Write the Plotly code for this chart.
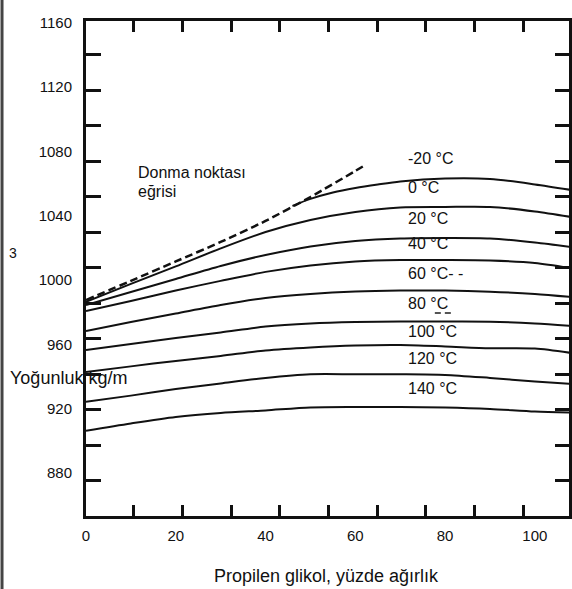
import plotly.graph_objects as go

# ---- data ----
conc = [0, 10, 20, 30, 40, 50, 60, 70, 80, 90, 100, 108]
conc_m20 = [46, 50, 55, 60, 65, 70, 80, 90, 100, 108]
dens_m20 = [1046.1, 1050.5, 1054.5, 1057.3, 1059.5, 1061.4, 1063.2, 1062.9, 1059.5, 1056.1]
dens_0 = [986.4, 997.6, 1008.5, 1019.7, 1029.9, 1037.4, 1042.4, 1045.2, 1045.5, 1045.5, 1042.7, 1039.3]
dens_20 = [984.5, 992.6, 1000.7, 1008.8, 1015.6, 1020.9, 1024.3, 1025.9, 1026.2, 1025.9, 1023.4, 1020.6]
dens_40 = [980.8, 987.0, 993.5, 999.5, 1005.1, 1009.1, 1011.6, 1012.5, 1012.5, 1012.2, 1010.7, 1007.5]
dens_60 = [968.3, 973.9, 979.2, 984.5, 988.9, 991.4, 992.9, 993.5, 993.5, 992.8, 991.4, 989.5]
dens_80 = [956.5, 960.2, 964.0, 967.4, 971.1, 973.0, 973.9, 974.2, 974.2, 974.1, 973.0, 971.5]
dens_100 = [942.8, 946.3, 949.7, 952.8, 956.2, 958.1, 959.3, 959.6, 958.7, 957.6, 957.4, 954.7]
dens_120 = [924.3, 928.1, 932.2, 935.7, 939.1, 941.4, 941.4, 941.4, 941.0, 939.1, 936.9, 935.4]
dens_140 = [906.3, 910.8, 914.8, 917.3, 918.9, 920.7, 921.0, 921.0, 920.7, 919.8, 918.2, 917.6]
freeze_conc = [0, 10, 20, 30, 40, 50, 60, 62.2]
freeze_dens = [987.6, 999.5, 1011.6, 1023.7, 1036.8, 1051.7, 1067.9, 1071.6]

curve_labels = ["-20 °C", "0 °C", "20 °C", "40 °C", "60 °C- -", "80 °C", "100 °C", "120 °C", "140 °C"]
x_tick_vals = [0, 20, 40, 60, 80, 100]
y_tick_vals = [880, 920, 960, 1000, 1040, 1080, 1120, 1160]

# ---- layout geometry ----
W, H = 572, 589
ML, MR, MT, MB = 86, 0, 21, 73
PW, PH = W - ML - MR, H - MT - MB
FONT = "Liberation Sans, Arial, sans-serif"
XR = [0, 107.6]
YR = [853.2, 1161.2]
X_MINOR = dict(tick0=10.63, dtick=10.85)
Y_MINOR = dict(tick0=875.0, dtick=22.1)


def px(x):
    return (x - ML) / PW


def py(y):
    return (H - MB - y) / PH


fig = go.Figure()

solid = [(conc_m20, dens_m20), (conc, dens_0), (conc, dens_20), (conc, dens_40),
         (conc, dens_60), (conc, dens_80), (conc, dens_100), (conc, dens_120), (conc, dens_140)]
for xs, ys in solid:
    fig.add_trace(go.Scatter(x=xs, y=ys, mode="lines",
                             line=dict(color="#111111", width=2, shape="spline", smoothing=0.8),
                             hoverinfo="skip", showlegend=False))

fig.add_trace(go.Scatter(x=freeze_conc, y=freeze_dens, mode="lines",
                         line=dict(color="#111111", width=2.5, dash="8px,4px", shape="spline", smoothing=0.6),
                         hoverinfo="skip", showlegend=False))

# empty trace that creates the overlay subplot carrying the top/right ticks
fig.add_trace(go.Scatter(x=[None], y=[None], xaxis="x2", yaxis="y2", mode="lines",
                         hoverinfo="skip", showlegend=False))

tickfont = dict(size=15, family=FONT, color="#111111")
fig.update_layout(
    width=W, height=H,
    margin=dict(l=ML, r=MR, t=MT, b=MB),
    paper_bgcolor="white", plot_bgcolor="white",
    font=dict(family=FONT, size=15, color="#111111"),
    showlegend=False,
    xaxis=dict(range=XR, showgrid=False, zeroline=False,
               showline=True, linewidth=3, linecolor="#111111", mirror=True,
               tickvals=x_tick_vals, ticks="", ticklabelstandoff=4, tickfont=tickfont,
               minor=dict(ticks="inside", ticklen=11, tickwidth=2.5, tickcolor="#111111",
                          showgrid=False, **X_MINOR)),
    yaxis=dict(range=YR, showgrid=False, zeroline=False,
               showline=True, linewidth=3, linecolor="#111111", mirror=True,
               tickvals=y_tick_vals, ticks="", ticklabelstandoff=8, tickfont=tickfont,
               minor=dict(ticks="inside", ticklen=15, tickwidth=2.5, tickcolor="#111111",
                          showgrid=False, **Y_MINOR)),
    xaxis2=dict(range=XR, overlaying="x", anchor="y2", side="top", showgrid=False,
                zeroline=False, showline=False, showticklabels=False,
                ticks="inside", ticklen=11, tickwidth=2.5, tickcolor="#111111",
                tickmode="linear", **X_MINOR),
    yaxis2=dict(range=YR, overlaying="y", anchor="x2", side="right", showgrid=False,
                zeroline=False, showline=False, showticklabels=False,
                ticks="inside", ticklen=14, tickwidth=2.5, tickcolor="#111111",
                tickmode="linear", **Y_MINOR),
)

anns = []
label_y = [158, 187, 218, 243, 273, 303, 331, 358, 388]
for txt, yy in zip(curve_labels, label_y):
    anns.append(dict(text=txt, x=px(408), y=py(yy), xref="paper", yref="paper",
                     xanchor="left", yanchor="middle", showarrow=False,
                     font=dict(size=16, family=FONT, color="#111111")))
anns.append(dict(text="Donma noktası", x=px(136), y=py(172.5), xref="paper", yref="paper",
                 xanchor="left", yanchor="middle", showarrow=False,
                 font=dict(size=16, family=FONT, color="#111111")))
anns.append(dict(text="eğrisi", x=px(136), y=py(191.5), xref="paper", yref="paper",
                 xanchor="left", yanchor="middle", showarrow=False,
                 font=dict(size=16, family=FONT, color="#111111")))
anns.append(dict(text="Yoğunluk kg/m", x=px(8), y=py(378), xref="paper", yref="paper",
                 xanchor="left", yanchor="middle", showarrow=False,
                 font=dict(size=18, family=FONT, color="#111111")))
anns.append(dict(text="3", x=px(7), y=py(253), xref="paper", yref="paper",
                 xanchor="left", yanchor="middle", showarrow=False,
                 font=dict(size=14, family=FONT, color="#111111")))
anns.append(dict(text="Propilen glikol, yüzde ağırlık", x=px(328), y=py(576), xref="paper", yref="paper",
                 xanchor="center", yanchor="middle", showarrow=False,
                 font=dict(size=18, family=FONT, color="#111111")))
fig.update_layout(annotations=anns)

# small scan dash mark under the "80 °C" label
fig.add_shape(type="line", xref="paper", yref="paper",
              x0=px(437), x1=px(457), y0=py(313), y1=py(313),
              line=dict(color="#555555", width=2, dash="6px,4px"))

# scan border on the left edge of the page
fig.add_shape(type="line", xref="paper", yref="paper",
              x0=px(1.5), x1=px(1.5), y0=py(0), y1=py(H),
              line=dict(color="#444444", width=3))

fig.write_html("out.html")
